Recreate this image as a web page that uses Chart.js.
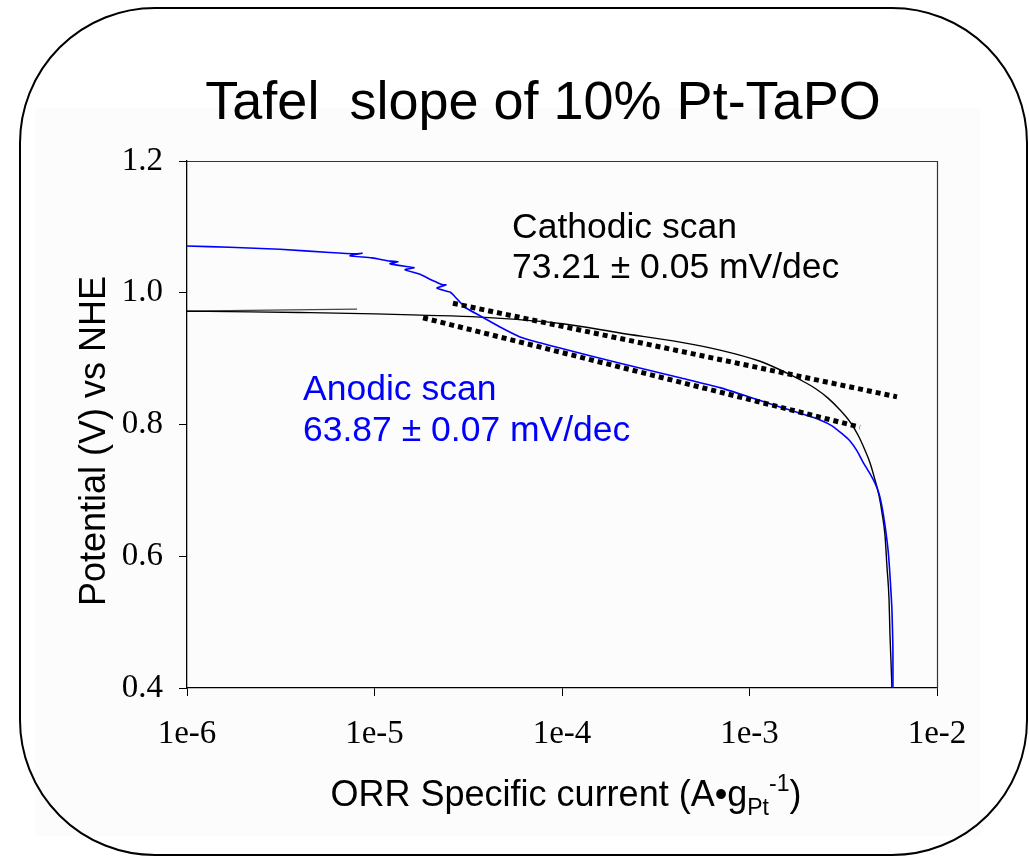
<!DOCTYPE html>
<html>
<head>
<meta charset="utf-8">
<title>Tafel slope of 10% Pt-TaPO</title>
<script src="https://cdn.jsdelivr.net/npm/chart.js@4.4.1/dist/chart.umd.min.js"></script>
<style>
  html, body { margin: 0; padding: 0; background: #ffffff; }
  #wrap { width: 1029px; height: 857px; }
</style>
</head>
<body>
<div id="wrap"><canvas id="tafelChart" width="1029" height="857"></canvas></div>
<script>
// Anodic scan (blue) - specific current (A/g Pt) and potential (V vs NHE)
const anodicCurrent = [
  1.00e-6, 1.69e-6, 3.13e-6, 5.79e-6, 7.87e-6, 8.58e-6, 7.40e-6, 9.69e-6,
  1.21e-5, 1.334e-5, 1.21e-5, 1.546e-5, 1.624e-5, 1.456e-5, 1.749e-5, 2.027e-5,
  2.319e-5, 2.405e-5, 2.154e-5, 2.527e-5, 2.687e-5, 3.04e-5, 3.65e-5, 4.67e-5,
  5.97e-5, 7.63e-5, 9.75e-5, 2.04e-4, 4.26e-4, 6.96e-4, 1.044e-3, 1.368e-3,
  1.859e-3, 2.377e-3, 2.754e-3, 3.114e-3, 3.436e-3, 3.745e-3, 4.03e-3, 4.337e-3,
  4.67e-3, 4.907e-3, 5.09e-3, 5.28e-3, 5.48e-3, 5.61e-3, 5.75e-3, 5.82e-3, 5.82e-3
];
const anodicPotential = [
  1.071, 1.069, 1.066, 1.061, 1.059, 1.060, 1.056, 1.053,
  1.048, 1.047, 1.044, 1.039, 1.038, 1.035, 1.028, 1.019,
  1.012, 1.012, 1.007, 1.001, 0.994, 0.978, 0.965, 0.948,
  0.933, 0.924, 0.916, 0.893, 0.871, 0.856, 0.840, 0.829,
  0.817, 0.807, 0.798, 0.786, 0.775, 0.760, 0.743, 0.728,
  0.711, 0.695, 0.675, 0.647, 0.610, 0.572, 0.518, 0.458, 0.400
];

// Cathodic scan (black)
const cathodicCurrent = [
  1.00e-6, 2.17e-6, 4.01e-6, 1.006e-5, 1.749e-5, 3.65e-5, 1.01e-4, 2.04e-4,
  4.26e-4, 6.96e-4, 1.138e-3, 1.585e-3, 1.859e-3, 2.235e-3, 2.623e-3, 3.04e-3,
  3.436e-3, 3.79e-3, 4.13e-3, 4.39e-3, 4.67e-3, 4.907e-3, 5.09e-3, 5.28e-3,
  5.41e-3, 5.55e-3, 5.61e-3, 5.68e-3, 5.75e-3
];
const cathodicPotential = [
  0.972, 0.971, 0.970, 0.968, 0.966, 0.963, 0.953, 0.939,
  0.925, 0.913, 0.896, 0.878, 0.868, 0.855, 0.840, 0.822,
  0.804, 0.784, 0.761, 0.742, 0.716, 0.692, 0.666, 0.632,
  0.584, 0.534, 0.483, 0.443, 0.400
];
// short low-current branch of the cathodic trace
const cathodicTailCurrent = [1.00e-6, 3.54e-6, 8.07e-6];
const cathodicTailPotential = [0.972, 0.974, 0.975];

// Tafel fit lines (dotted)
const cathodicFitCurrent = [2.62e-5, 6.12e-3];
const cathodicFitPotential = [0.984, 0.842];
const anodicFitCurrent = [1.815e-5, 3.88e-3];
const anodicFitPotential = [0.962, 0.796];

const xTickValues = [1e-6, 1e-5, 1e-4, 1e-3, 1e-2];
const xTickLabels = ['1e-6', '1e-5', '1e-4', '1e-3', '1e-2'];

const titleText = 'Tafel  slope of 10% Pt-TaPO';
const yTitleText = 'Potential (V) vs NHE';
const cathodicLabel = ['Cathodic scan', '73.21 \u00B1 0.05 mV/dec'];
const anodicLabel = ['Anodic scan', '63.87 \u00B1 0.07 mV/dec'];

const BLUE = '#0000ff';
const SANS = '"Liberation Sans", Arial, sans-serif';
const SERIF = '"Liberation Serif", "Times New Roman", serif';

function toPoints(xs, ys) {
  return xs.map((x, i) => ({ x: x, y: ys[i] }));
}

// Frame, title, axis titles and annotations
const decorPlugin = {
  id: 'decor',
  beforeDraw(chart) {
    const ctx = chart.ctx;
    ctx.save();
    ctx.fillStyle = '#ffffff';
    ctx.fillRect(0, 0, chart.width, chart.height);
    ctx.fillStyle = '#fcfcfc';
    ctx.fillRect(35, 108, 945, 728);

    // rounded outer frame
    const x0 = 20, y0 = 8, x1 = 1027, y1 = 855, r = 135;
    ctx.beginPath();
    ctx.moveTo(x0 + r, y0);
    ctx.lineTo(x1 - r, y0);
    ctx.arcTo(x1, y0, x1, y0 + r, r);
    ctx.lineTo(x1, y1 - r);
    ctx.arcTo(x1, y1, x1 - r, y1, r);
    ctx.lineTo(x0 + r, y1);
    ctx.arcTo(x0, y1, x0, y1 - r, r);
    ctx.lineTo(x0, y0 + r);
    ctx.arcTo(x0, y0, x0 + r, y0, r);
    ctx.closePath();
    ctx.lineWidth = 2;
    ctx.strokeStyle = '#000000';
    ctx.stroke();
    ctx.restore();
  },
  afterDraw(chart) {
    const ctx = chart.ctx;
    const area = chart.chartArea;
    ctx.save();

    // top and right edges of the plot box
    ctx.strokeStyle = '#333333';
    ctx.lineWidth = 1.2;
    ctx.beginPath();
    ctx.moveTo(area.left, area.top + 0.5);
    ctx.lineTo(area.right + 0.5, area.top + 0.5);
    ctx.lineTo(area.right + 0.5, area.bottom);
    ctx.stroke();

    ctx.fillStyle = '#000000';
    ctx.textAlign = 'center';
    ctx.textBaseline = 'alphabetic';
    ctx.font = '54px ' + SANS;
    ctx.fillText(titleText, 543, 119);

    // y title (rotated)
    ctx.save();
    ctx.translate(105, 441);
    ctx.rotate(-Math.PI / 2);
    ctx.font = '36px ' + SANS;
    ctx.fillText(yTitleText, 0, 0);
    ctx.restore();

    // x title with subscript and superscript
    const big = '36px ' + SANS, small = '23px ' + SANS;
    const parts = [
      { t: 'ORR Specific current (A\u2022g', f: big, dy: 0 },
      { t: 'Pt', f: small, dy: 9 },
      { t: '-1', f: small, dy: -15 },
      { t: ')', f: big, dy: 0 }
    ];
    let total = 0;
    parts.forEach(p => { ctx.font = p.f; p.w = ctx.measureText(p.t).width; total += p.w; });
    let cx = 566 - total / 2;
    ctx.textAlign = 'left';
    parts.forEach(p => {
      ctx.font = p.f;
      ctx.fillText(p.t, cx, 806 + p.dy);
      cx += p.w;
    });

    // annotations
    ctx.font = '35.5px ' + SANS;
    ctx.fillStyle = '#000000';
    ctx.fillText(cathodicLabel[0], 512, 238);
    ctx.fillText(cathodicLabel[1], 512, 278);
    ctx.fillStyle = BLUE;
    ctx.fillText(anodicLabel[0], 303, 400);
    ctx.fillText(anodicLabel[1], 303, 441);
    ctx.restore();
  }
};

const ctx = document.getElementById('tafelChart').getContext('2d');
new Chart(ctx, {
  type: 'line',
  data: {
    datasets: [
      {
        label: 'Cathodic Tafel fit',
        data: toPoints(cathodicFitCurrent, cathodicFitPotential),
        borderColor: '#000000',
        borderWidth: 5,
        borderDash: [5, 4],
        borderCapStyle: 'butt',
        pointRadius: 0,
        order: 0
      },
      {
        label: 'Anodic Tafel fit',
        data: toPoints(anodicFitCurrent, anodicFitPotential),
        borderColor: '#000000',
        borderWidth: 5,
        borderDash: [5, 4],
        borderCapStyle: 'butt',
        pointRadius: 0,
        order: 0
      },
      {
        label: 'Anodic scan',
        data: toPoints(anodicCurrent, anodicPotential),
        borderColor: BLUE,
        borderWidth: 1.6,
        pointRadius: 0,
        tension: 0.2,
        order: 1
      },
      {
        label: 'Cathodic scan',
        data: toPoints(cathodicCurrent, cathodicPotential),
        borderColor: '#000000',
        borderWidth: 1.4,
        pointRadius: 0,
        cubicInterpolationMode: 'monotone',
        order: 2
      },
      {
        label: 'Cathodic scan (low current)',
        data: toPoints(cathodicTailCurrent, cathodicTailPotential),
        borderColor: '#444444',
        borderWidth: 1.2,
        pointRadius: 0,
        tension: 0,
        order: 2
      }
    ]
  },
  options: {
    responsive: false,
    animation: false,
    devicePixelRatio: 1,
    layout: { padding: { left: 0, top: 161, right: 92, bottom: 0 } },
    plugins: {
      legend: { display: false },
      tooltip: { enabled: false },
      title: { display: false }
    },
    scales: {
      x: {
        type: 'logarithmic',
        min: 1e-6,
        max: 1e-2,
        afterBuildTicks: s => { s.ticks = xTickValues.map(v => ({ value: v })); },
        afterFit: s => { s.height = 169; },
        grid: { drawOnChartArea: false, drawTicks: true, tickLength: 8, color: '#000000' },
        border: { display: true, color: '#000000', width: 1.3 },
        ticks: {
          padding: 19,
          color: '#000000',
          font: { family: SERIF, size: 33 },
          maxRotation: 0,
          autoSkip: false,
          callback: (v, i) => xTickLabels[i]
        }
      },
      y: {
        type: 'linear',
        min: 0.4,
        max: 1.2,
        afterFit: s => { s.width = 187; },
        grid: { drawOnChartArea: false, drawTicks: true, tickLength: 8, color: '#000000' },
        border: { display: true, color: '#000000', width: 1.3 },
        ticks: {
          stepSize: 0.2,
          padding: 16,
          color: '#000000',
          font: { family: SERIF, size: 33 },
          callback: v => Number(v).toFixed(1)
        }
      }
    }
  },
  plugins: [decorPlugin]
});
</script>
</body>
</html>
